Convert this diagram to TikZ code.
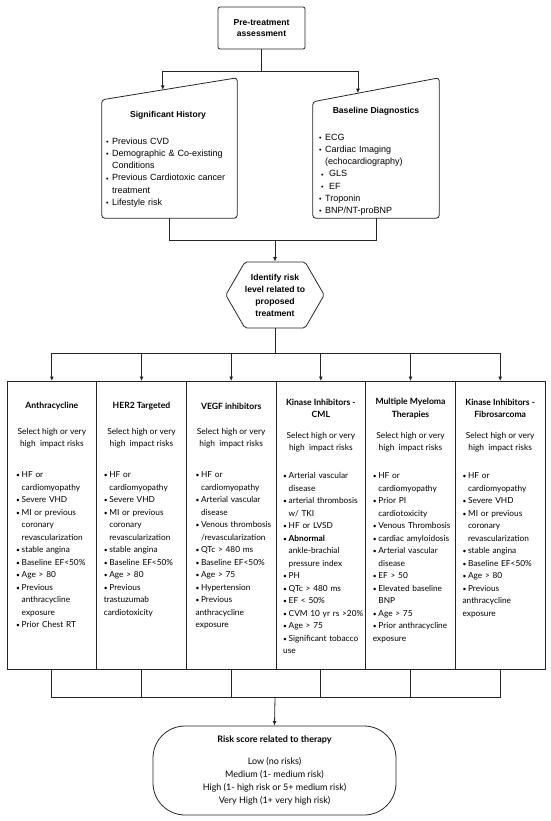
\documentclass[tikz,border=0pt]{standalone}
\usepackage{fontspec}
\setmainfont{Lato}
\newfontfamily\headfont{Liberation Sans}
\usetikzlibrary{positioning, arrows.meta, calc, shapes.symbols}
\newlength\bulw
\setlength\bulw{5.5pt}
\newcommand\itm[1]{\par\hangindent=\bulw\hangafter=1\noindent\makebox[\bulw][l]{\scalebox{0.8}{\textbullet}}#1}
\newcommand\subitm[1]{\par\noindent\hspace*{2pt}\makebox[8pt][l]{\scalebox{0.8}{\textbullet}}#1}
\tikzset{
  line/.style={draw=black!85, line width=0.8pt},
  arr/.style={line, -{Latex[length=4.5pt,width=4pt]}},
  startbox/.style={
    line,
    rectangle,
    rounded corners=2pt,
    minimum width=87pt,
    minimum height=42pt,
    align=center,
    font=\headfont\fontsize{8.6}{11.5}\selectfont\bfseries
  },
  inputbox/.style={
    rectangle,
    minimum height=140pt,
    inner sep=0pt
  },
  headtext/.style={font=\headfont\fontsize{8.6}{11}\selectfont\bfseries, inner sep=0pt},
  headlist/.style={
    anchor=north west,
    inner sep=0pt,
    text width=140pt,
    align=left,
    font=\headfont\fontsize{9}{12.2}\selectfont\setlength\bulw{6pt}
  },
  hexa/.style={
    line,
    signal,
    signal to=east and west,
    signal pointer angle=120,
    rounded corners=2pt,
    minimum height=66pt,
    inner xsep=0pt,
    align=center,
    font=\headfont\fontsize{8.6}{12}\selectfont\bfseries
  },
  colbox/.style={
    line,
    rectangle,
    outer sep=0pt,
    minimum width=89.67pt,
    minimum height=288pt
  },
  coltitle/.style={align=center, inner sep=0pt, font=\fontsize{8.6}{12.5}\selectfont\bfseries},
  colsel/.style={align=center, inner sep=0pt, font=\fontsize{8.4}{12.3}\selectfont},
  collist/.style={
    anchor=north west,
    inner sep=0pt,
    text width=100pt,
    align=left,
    font=\fontsize{8.3}{12.5}\selectfont
  },
  scorebox/.style={
    line,
    rectangle,
    rounded corners=32pt,
    minimum width=243pt,
    minimum height=89pt,
    align=center,
    font=\fontsize{9}{13}\selectfont
  }
}

\begin{document}
\begin{tikzpicture}[x=1pt, y=-1pt]
  \useasboundingbox (0,0) rectangle (550,821);

  % assessment
  \node[startbox] (pre) at (261.5,28) {Pre-treatment\\assessment};

  \node[inputbox, minimum width=135pt] (hist) at (169.5,148) {};
  \node[inputbox, minimum width=126pt] (base) at (376,148) {};
  \coordinate (histnw) at ([yshift=-22pt]hist.north west);
  \coordinate (basenw) at ([yshift=-24pt]base.north west);
  \draw[line, rounded corners=3pt] (hist.south west) -- (hist.south east) -- (hist.north east) -- (histnw) -- cycle;
  \draw[line, rounded corners=3pt] (base.south west) -- (base.south east) -- (base.north east) -- (basenw) -- cycle;
  \coordinate (histtop) at ($(histnw)!0.45!(hist.north east)$);
  \coordinate (basetop) at ($(basenw)!0.357!(base.north east)$);

  \node[headtext] (histhead) at (168,115) {Significant History};
  \node[headlist] (histlist) at (106,132) {%
    \itm{Previous CVD}
    \itm{Demographic \& Co-existing\newline Conditions}
    \itm{Previous Cardiotoxic cancer\newline treatment}
    \itm{Lifestyle risk}};
  \node[headtext] (basehead) at (376,111) {Baseline Diagnostics};
  \node[headlist] (baselist) at (319,128) {%
    \itm{ECG}
    \itm{Cardiac Imaging\newline (echocardiography)}
    \subitm{GLS}
    \subitm{EF}
    \itm{Troponin}
    \itm{BNP/NT-proBNP}};

  \coordinate (split) at (261.5,71);
  \draw[line] (pre.south) -- (split);
  \draw[arr] (split) -| (histtop);
  \draw[arr] (split) -| (basetop);

  % risk level
  \node[hexa] (ident) at (275,295) {Identify risk\\level related to\\proposed\\treatment};
  \coordinate (merge) at (275,240);
  \draw[line] (hist.south) |- (merge);
  \draw[line] (base.south) |- (merge);
  \draw[arr] (merge) -- (ident.north);

  % therapies
  \node[colbox, anchor=north west] (c1) at (7,381) {};
  \node[colbox, right=0pt of c1] (c2) {};
  \node[colbox, right=0pt of c2] (c3) {};
  \node[colbox, right=0pt of c3] (c4) {};
  \node[colbox, right=0pt of c4] (c5) {};
  \node[colbox, right=0pt of c5] (c6) {};

  \node[coltitle] (t1) at ($(c1.north)+(0,25)$) {Anthracycline};
  \node[coltitle] (t2) at ($(c2.north)+(0,25)$) {HER2 Targeted};
  \node[coltitle] (t3) at ($(c3.north)+(0,25)$) {VEGF inhibitors};
  \node[coltitle] (t4) at ($(c4.north)+(0,27.5)$) {Kinase Inhibitors -\\CML};
  \node[coltitle] (t5) at ($(c5.north)+(0,27.5)$) {Multiple Myeloma\\Therapies};
  \node[coltitle] (t6) at ($(c6.north)+(0,27.5)$) {Kinase Inhibitors -\\Fibrosarcoma};

  \node[colsel] (s1) at ($(c1.north)+(0,57)$) {Select high or very\\high\ \ impact risks};
  \node[colsel] (s2) at ($(c2.north)+(0,57)$) {Select high or very\\high\ \ impact risks};
  \node[colsel] (s3) at ($(c3.north)+(0,57)$) {Select high or very\\high\ \ impact risks};
  \node[colsel] (s4) at ($(c4.north)+(0,61)$) {Select high or very\\high\ \ impact risks};
  \node[colsel] (s5) at ($(c5.north)+(0,61)$) {Select high or very\\high\ \ impact risks};
  \node[colsel] (s6) at ($(c6.north)+(0,61)$) {Select high or very\\high\ \ impact risks};

  \node[collist] (l1) at ($(c1.north west)+(9,84)$) {%
    \itm{HF or\newline cardiomyopathy}
    \itm{Severe VHD}
    \itm{MI or previous\newline coronary\newline revascularization}
    \itm{stable angina}
    \itm{Baseline EF<50\%}
    \itm{Age > 80}
    \itm{Previous\newline anthracycline\newline exposure}
    \itm{Prior Chest RT}};
  \node[collist] (l2) at ($(c2.north west)+(7,84)$) {%
    \itm{HF or\newline cardiomyopathy}
    \itm{Severe VHD}
    \itm{MI or previous\newline coronary\newline revascularization}
    \itm{stable angina}
    \itm{Baseline EF<50\%}
    \itm{Age > 80}
    \itm{Previous\newline trastuzumab\newline cardiotoxicity}};
  \node[collist] (l3) at ($(c3.north west)+(9,84)$) {%
    \itm{HF or\newline cardiomyopathy}
    \itm{Arterial vascular\newline disease}
    \itm{Venous thrombosis\newline /revascularization}
    \itm{QTc > 480 ms}
    \itm{Baseline EF<50\%}
    \itm{Age > 75}
    \itm{Hypertension}
    \itm{Previous\newline anthracycline\newline exposure}};
  \node[collist] (l4) at ($(c4.north west)+(7,85)$) {%
    \itm{Arterial vascular\newline disease}
    \itm{arterial thrombosis\newline w/ TKI}
    \itm{HF or LVSD}
    \itm{\textbf{Abnormal}\newline ankle-brachial\newline pressure index}
    \itm{PH}
    \itm{QTc > 480 ms}
    \itm{EF < 50\%}
    \itm{CVM 10 yr rs >20\%}
    \itm{Age > 75}
    \itm{Significant tobacco\newline use}};
  \node[collist] (l5) at ($(c5.north west)+(7,85)$) {%
    \itm{HF or\newline cardiomyopathy}
    \itm{Prior PI\newline cardiotoxicity}
    \itm{Venous Thrombosis}
    \itm{cardiac amyloidosis}
    \itm{Arterial vascular\newline disease}
    \itm{EF > 50}
    \itm{Elevated baseline\newline BNP}
    \itm{Age > 75}
    \itm{Prior anthracycline\newline exposure}};
  \node[collist] (l6) at ($(c6.north west)+(7,85)$) {%
    \itm{HF or\newline cardiomyopathy}
    \itm{Severe VHD}
    \itm{MI or previous\newline coronary\newline revascularization}
    \itm{stable angina}
    \itm{Baseline EF<50\%}
    \itm{Age > 80}
    \itm{Previous\newline anthracycline\newline exposure}};

  \coordinate (fork) at (275,353);
  \draw[line] (ident.south) -- (fork);
  \draw[arr] (fork) -| (c1.north);
  \draw[arr] (fork) -| (c2.north);
  \draw[arr] (fork) -| (c3.north);
  \draw[arr] (fork) -| (c4.north);
  \draw[arr] (fork) -| (c5.north);
  \draw[arr] (fork) -| (c6.north);

  % risk score
  \node[scorebox] (score) at (274.5,770.5) {\textbf{Risk score related to therapy}\\[9pt]Low (no risks)\\Medium (1- medium risk)\\High (1- high risk or 5+ medium risk)\\Very High (1+ very high risk)};
  \coordinate (join) at (275,697);
  \draw[line] (c1.south) |- (join);
  \draw[line] (c2.south) |- (join);
  \draw[line] (c3.south) |- (join);
  \draw[line] (c4.south) |- (join);
  \draw[line] (c5.south) |- (join);
  \draw[line] (c6.south) |- (join);
  \draw[arr] (join) -- (score.north);
\end{tikzpicture}
\end{document}
